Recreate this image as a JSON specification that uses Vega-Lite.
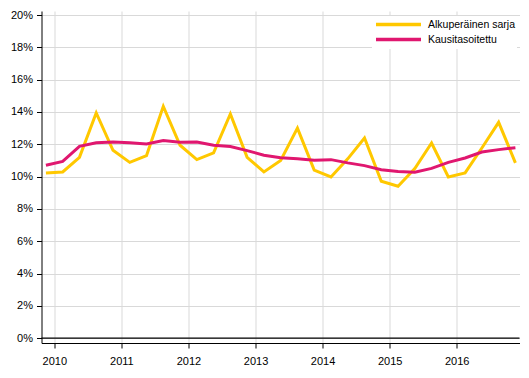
{
  "$schema": "https://vega.github.io/schema/vega-lite/v6.json",
  "width": 478,
  "height": 332,
  "autosize": "none",
  "padding": {"left": 41.5, "top": 11, "right": 10, "bottom": 35},
  "background": "white",
  "config": {
    "view": {"stroke": null},
    "font": "Liberation Sans",
    "axis": {"labelFont": "Liberation Sans", "labelFontSize": 11, "labelColor": "#000000", "gridColor": "#d9d9d9", "gridWidth": 1, "domainColor": "#000000", "tickColor": "#000000", "tickSize": 5, "titleFontSize": 11}
  },
  "datasets": {
    "main": [
      {"t": 2009.875, "series": "Alkuperäinen sarja", "v": 10.23},
      {"t": 2010.125, "series": "Alkuperäinen sarja", "v": 10.29},
      {"t": 2010.375, "series": "Alkuperäinen sarja", "v": 11.19},
      {"t": 2010.625, "series": "Alkuperäinen sarja", "v": 13.94},
      {"t": 2010.875, "series": "Alkuperäinen sarja", "v": 11.63},
      {"t": 2011.125, "series": "Alkuperäinen sarja", "v": 10.88},
      {"t": 2011.375, "series": "Alkuperäinen sarja", "v": 11.3},
      {"t": 2011.625, "series": "Alkuperäinen sarja", "v": 14.35},
      {"t": 2011.875, "series": "Alkuperäinen sarja", "v": 11.94},
      {"t": 2012.125, "series": "Alkuperäinen sarja", "v": 11.05},
      {"t": 2012.375, "series": "Alkuperäinen sarja", "v": 11.47},
      {"t": 2012.625, "series": "Alkuperäinen sarja", "v": 13.88},
      {"t": 2012.875, "series": "Alkuperäinen sarja", "v": 11.19},
      {"t": 2013.125, "series": "Alkuperäinen sarja", "v": 10.29},
      {"t": 2013.375, "series": "Alkuperäinen sarja", "v": 11.0},
      {"t": 2013.625, "series": "Alkuperäinen sarja", "v": 13.0},
      {"t": 2013.875, "series": "Alkuperäinen sarja", "v": 10.4},
      {"t": 2014.125, "series": "Alkuperäinen sarja", "v": 9.98},
      {"t": 2014.375, "series": "Alkuperäinen sarja", "v": 11.1},
      {"t": 2014.625, "series": "Alkuperäinen sarja", "v": 12.39},
      {"t": 2014.875, "series": "Alkuperäinen sarja", "v": 9.71},
      {"t": 2015.125, "series": "Alkuperäinen sarja", "v": 9.4},
      {"t": 2015.375, "series": "Alkuperäinen sarja", "v": 10.5},
      {"t": 2015.625, "series": "Alkuperäinen sarja", "v": 12.08},
      {"t": 2015.875, "series": "Alkuperäinen sarja", "v": 9.98},
      {"t": 2016.125, "series": "Alkuperäinen sarja", "v": 10.23},
      {"t": 2016.375, "series": "Alkuperäinen sarja", "v": 11.77},
      {"t": 2016.625, "series": "Alkuperäinen sarja", "v": 13.36},
      {"t": 2016.875, "series": "Alkuperäinen sarja", "v": 10.85},
      {"t": 2009.875, "series": "Kausitasoitettu", "v": 10.7},
      {"t": 2010.125, "series": "Kausitasoitettu", "v": 10.94},
      {"t": 2010.375, "series": "Kausitasoitettu", "v": 11.87},
      {"t": 2010.625, "series": "Kausitasoitettu", "v": 12.1},
      {"t": 2010.875, "series": "Kausitasoitettu", "v": 12.14},
      {"t": 2011.125, "series": "Kausitasoitettu", "v": 12.1},
      {"t": 2011.375, "series": "Kausitasoitettu", "v": 12.02},
      {"t": 2011.625, "series": "Kausitasoitettu", "v": 12.23},
      {"t": 2011.875, "series": "Kausitasoitettu", "v": 12.12},
      {"t": 2012.125, "series": "Kausitasoitettu", "v": 12.14},
      {"t": 2012.375, "series": "Kausitasoitettu", "v": 11.94},
      {"t": 2012.625, "series": "Kausitasoitettu", "v": 11.86},
      {"t": 2012.875, "series": "Kausitasoitettu", "v": 11.61},
      {"t": 2013.125, "series": "Kausitasoitettu", "v": 11.32},
      {"t": 2013.375, "series": "Kausitasoitettu", "v": 11.16},
      {"t": 2013.625, "series": "Kausitasoitettu", "v": 11.11},
      {"t": 2013.875, "series": "Kausitasoitettu", "v": 11.01},
      {"t": 2014.125, "series": "Kausitasoitettu", "v": 11.05},
      {"t": 2014.375, "series": "Kausitasoitettu", "v": 10.85},
      {"t": 2014.625, "series": "Kausitasoitettu", "v": 10.68},
      {"t": 2014.875, "series": "Kausitasoitettu", "v": 10.43},
      {"t": 2015.125, "series": "Kausitasoitettu", "v": 10.31},
      {"t": 2015.375, "series": "Kausitasoitettu", "v": 10.27},
      {"t": 2015.625, "series": "Kausitasoitettu", "v": 10.51},
      {"t": 2015.875, "series": "Kausitasoitettu", "v": 10.88},
      {"t": 2016.125, "series": "Kausitasoitettu", "v": 11.15},
      {"t": 2016.375, "series": "Kausitasoitettu", "v": 11.52},
      {"t": 2016.625, "series": "Kausitasoitettu", "v": 11.67},
      {"t": 2016.875, "series": "Kausitasoitettu", "v": 11.79}
    ],
    "zero": [{"z": 0}]
  },
  "layer": [
    {
      "data": {"name": "main"},
      "mark": {"type": "line", "strokeWidth": 3, "strokeJoin": "miter", "clip": true},
      "encoding": {
        "x": {
          "field": "t", "type": "quantitative",
          "scale": {"domain": [2009.809, 2016.936], "nice": false, "zero": false},
          "axis": {"title": null, "values": [2010, 2011, 2012, 2013, 2014, 2015, 2016], "format": "d", "grid": true, "labelPadding": 7, "labelFlush": false, "labelOverlap": false}
        },
        "y": {
          "field": "v", "type": "quantitative",
          "scale": {"domain": [-0.3, 20.25], "nice": false, "zero": false},
          "axis": {"title": null, "values": [0, 2, 4, 6, 8, 10, 12, 14, 16, 18, 20], "labelExpr": "datum.value + '%'", "grid": true, "labelPadding": 4, "labelOverlap": false}
        },
        "color": {
          "field": "series", "type": "nominal",
          "scale": {"domain": ["Alkuperäinen sarja", "Kausitasoitettu"], "range": ["#FFC800", "#E0176F"]},
          "legend": {
            "title": null, "orient": "none", "legendX": 330.5, "legendY": 5,
            "symbolType": "M-1,0H9", "symbolSize": 81, "symbolStrokeWidth": 3.5,
            "labelFont": "Liberation Sans", "labelFontSize": 10.5, "labelColor": "#000000", "labelOffset": 41,
            "fillColor": "#ffffff", "padding": 2, "rowPadding": 0
          }
        }
      }
    },
    {
      "data": {"name": "zero"},
      "mark": {"type": "rule", "color": "#000000", "strokeWidth": 1.3},
      "encoding": {
        "y": {
          "field": "z", "type": "quantitative",
          "axis": {"title": null, "values": [0, 2, 4, 6, 8, 10, 12, 14, 16, 18, 20], "labelExpr": "datum.value + '%'", "grid": true, "labelPadding": 4, "labelOverlap": false}
        }
      }
    }
  ]
}
